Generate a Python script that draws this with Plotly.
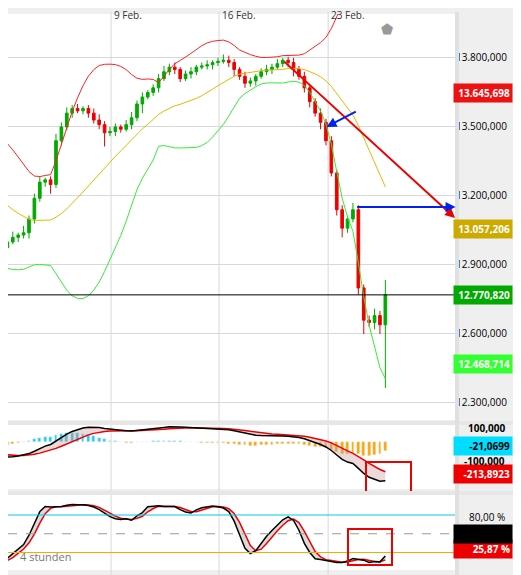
import plotly.graph_objects as go

# ---- data (4-hour bars) ----
pre_closes = [13400, 13380, 13370, 13350, 13330, 13320, 13290, 13270, 13250, 13230,
              13200, 13180, 13150, 13120, 13090, 13060, 13030, 13000, 12980, 12960]
closes = [12975, 13000, 13020, 13030, 13040, 13100, 13190, 13260, 13270, 13250,
          13440, 13500, 13560, 13580, 13570, 13580, 13560, 13530, 13510, 13475,
          13480, 13500, 13490, 13510, 13540, 13600, 13630, 13650, 13670, 13710,
          13740, 13760, 13750, 13710, 13730, 13740, 13760, 13765, 13770, 13780,
          13785, 13790, 13780, 13750, 13720, 13690, 13700, 13720, 13740, 13750,
          13760, 13775, 13790, 13780, 13750, 13720, 13670, 13610, 13560, 13520,
          13440, 13300, 13140, 13060, 13100, 13140, 12800, 12660, 12650, 12680,
          12640, 12770]
wick_up = [20, 15, 25, 10, 30, 15, 20, 25, 10, 15, 30, 20, 25, 15, 20, 10, 15, 20, 25, 15,
           20, 15, 10, 20, 25, 15, 20, 10, 15, 20, 25, 15, 20, 10, 15, 20, 10, 15, 20, 10,
           15, 25, 20, 15, 10, 20, 15, 10, 15, 20, 15, 20, 10, 15, 20, 15, 20, 10, 15, 20,
           15, 20, 15, 20, 15, 30, 20, 15, 20, 30, 20, 65]
wick_dn = [20, 15, 10, 20, 15, 25, 20, 15, 20, 40, 15, 20, 15, 20, 10, 15, 20, 15, 20, 60,
           15, 20, 15, 10, 20, 15, 40, 10, 15, 20, 10, 15, 20, 15, 10, 20, 15, 10, 15, 20,
           15, 10, 20, 30, 15, 20, 15, 20, 10, 15, 20, 10, 15, 20, 30, 15, 20, 25, 15, 30,
           20, 15, 25, 40, 20, 15, 30, 60, 20, 30, 40, 275]
date_ticks = ["9 Feb.", "16 Feb.", "23 Feb."]
date_pos = [20.2, 40.2, 60.4]

opens = [pre_closes[-1]] + closes[:-1]
highs = [max(o, c) + w for o, c, w in zip(opens, closes, wick_up)]
lows = [min(o, c) - w for o, c, w in zip(opens, closes, wick_dn)]
n = len(closes)
xs = list(range(n))

allc = pre_closes + closes
allh = [c + 15 for c in pre_closes] + highs
alll = [c - 15 for c in pre_closes] + lows
P = len(pre_closes)

def sma_std(arr, i, w):
    s = arr[i - w + 1:i + 1]
    m = sum(s) / len(s)
    v = (sum((x - m) ** 2 for x in s) / len(s)) ** 0.5
    return m, v

mid, up, lo = [], [], []
for i in range(P, P + n):
    m, v = sma_std(allc, i, 20)
    mid.append(m); up.append(m + 2 * v); lo.append(m - 2 * v)

def ema(arr, w):
    k = 2 / (w + 1); out = [arr[0]]
    for x in arr[1:]:
        out.append(out[-1] + k * (x - out[-1]))
    return out

macd_all = [a - b for a, b in zip(ema(allc, 12), ema(allc, 26))]
sig_all = ema(macd_all, 9)
macd = macd_all[P:]; sig = sig_all[P:]
hist = [m - s for m, s in zip(macd, sig)]

kraw = []
for i in range(len(allc)):
    hh = max(allh[max(0, i - 13):i + 1]); ll = min(alll[max(0, i - 13):i + 1])
    kraw.append(100 * (allc[i] - ll) / (hh - ll) if hh > ll else 50)
kslow = [sum(kraw[max(0, i - 2):i + 1]) / len(kraw[max(0, i - 2):i + 1]) for i in range(len(kraw))]
dline = [sum(kslow[max(0, i - 2):i + 1]) / len(kslow[max(0, i - 2):i + 1]) for i in range(len(kslow))]
kk = kslow[P:]; dd = dline[P:]

# page has 8px body margin: figure spans ref pixels 8..513 / 8..575
OFF = 8
W, H = 521 - 2 * OFF, 575 - OFF
def fx(px): return (px - OFF) / W
def fy(py): return 1 - (py - OFF) / H
def dom(a, b): return [fy(b), fy(a)]

fig = go.Figure()
fig.add_trace(go.Scatter(x=xs, y=up, mode="lines", line=dict(color="#ff2020", width=1), yaxis="y"))
fig.add_trace(go.Scatter(x=xs, y=mid, mode="lines", line=dict(color="#e6b800", width=1), yaxis="y"))
fig.add_trace(go.Scatter(x=xs, y=lo, mode="lines", line=dict(color="#33ee33", width=1), yaxis="y"))
fig.add_trace(go.Candlestick(x=xs, open=opens, high=highs, low=lows, close=closes,
                             increasing=dict(line=dict(color="#00aa00", width=1), fillcolor="#00aa00"),
                             decreasing=dict(line=dict(color="#ee0000", width=1), fillcolor="#ee0000"),
                             whiskerwidth=0, yaxis="y"))
fig.add_trace(go.Bar(x=xs, y=hist, marker_color=["#22ccee" if h >= 0 else "#ffa500" for h in hist],
                     width=0.5, yaxis="y2"))
fig.add_trace(go.Scatter(x=xs, y=sig, mode="lines", line=dict(color="#ee0000", width=1.5), yaxis="y2"))
fig.add_trace(go.Scatter(x=xs, y=macd, mode="lines", line=dict(color="black", width=1.5),
                         fill="tonexty", fillcolor="rgba(200,150,150,0.35)", yaxis="y2"))
fig.add_trace(go.Scatter(x=xs, y=dd, mode="lines", line=dict(color="#ee0000", width=1.5), yaxis="y3"))
fig.add_trace(go.Scatter(x=xs, y=kk, mode="lines", line=dict(color="black", width=1.5),
                         fill="tonexty", fillcolor="rgba(150,150,150,0.35)", yaxis="y3"))

shapes = []
for p in date_pos:
    shapes.append(dict(type="line", xref="x", yref="paper", x0=p, x1=p, y0=0, y1=fy(12),
                       line=dict(color="#d8d8d8", width=1), layer="below"))
for yv, c, d in [(80, "#00ccee", "solid"), (50, "#999999", "dash"), (20, "#ffa500", "solid")]:
    shapes.append(dict(type="line", xref="paper", yref="y3", x0=0, x1=fx(455), y0=yv, y1=yv,
                       line=dict(color=c, width=1, dash=d)))
shapes.append(dict(type="line", xref="paper", yref="y", x0=0, x1=fx(455), y0=closes[-1], y1=closes[-1],
                   line=dict(color="black", width=1)))
shapes.append(dict(type="rect", xref="paper", yref="paper", x0=fx(366), x1=fx(411), y0=fy(492), y1=fy(462),
                   line=dict(color="#ee0000", width=2)))
shapes.append(dict(type="rect", xref="paper", yref="paper", x0=fx(348), x1=fx(392), y0=fy(565), y1=fy(529),
                   line=dict(color="#ee0000", width=2)))
for yp in [421, 491]:
    shapes.append(dict(type="rect", xref="paper", yref="paper", x0=0, x1=1, y0=fy(yp + 4), y1=fy(yp),
                       fillcolor="#e6e6e6", line=dict(width=0)))
shapes.append(dict(type="rect", xref="paper", yref="paper", x0=fx(455), x1=fx(459), y0=0, y1=fy(12),
                   fillcolor="#e0e0e0", line=dict(width=0)))

ann = []
for p, t in zip(date_pos, date_ticks):
    ann.append(dict(x=p, xref="x", y=1, yref="paper", text=t, showarrow=False, xanchor="left", yanchor="top",
                    xshift=1, yshift=2, font=dict(size=10, color="#333")))
def tag(yv, yref, text, bg, fc="white"):
    ann.append(dict(x=1, xref="paper", y=yv, yref=yref, text="<b>" + text + "</b>", showarrow=False, xanchor="right",
                    bgcolor=bg, font=dict(size=10, color=fc), borderpad=2, width=54, align="right"))
tag(13645.698, "y", "13.645,698", "#ee1111")
tag(13057.206, "y", "13.057,206", "#ccaa00")
tag(closes[-1], "y", "12.770,820", "#00aa00")
tag(12468.714, "y", "12.468,714", "#33ff33")
tag(-21.07, "y2", "-21,0699", "#00ddff", "black")
tag(-213.89, "y2", "-213,8923", "#ee0000")
tag(25.87, "y3", "25,87 %", "#ee0000")
tag(50, "y3", " ", "black")
ann.append(dict(x=1, xref="paper", y=100, yref="y2", text="<b>100,000</b>", showarrow=False, xanchor="right",
                xshift=-6, font=dict(size=10, color="black")))
ann.append(dict(x=1, xref="paper", y=-100, yref="y2", text="<b>-100,000</b>", showarrow=False, xanchor="right",
                xshift=-6, yshift=-4, font=dict(size=10, color="black")))
ann.append(dict(x=1, xref="paper", y=80, yref="y3", text="80,00 %", showarrow=False, xanchor="right",
                xshift=-6, yshift=-2, font=dict(size=10, color="black")))
ann.append(dict(x=fx(18), xref="paper", y=14, yref="y3", text="4 stunden", showarrow=False, xanchor="left",
                font=dict(size=11, color="#777")))
ann.append(dict(x=83.9, y=13104, ax=52, ay=13790, xref="x", yref="y", axref="x", ayref="y", text="",
                showarrow=True, arrowhead=2, arrowsize=1, arrowwidth=2, arrowcolor="#ee0000"))
ann.append(dict(x=60.1, y=13500, ax=65.8, ay=13570, xref="x", yref="y", axref="x", ayref="y", text="",
                showarrow=True, arrowhead=2, arrowsize=1, arrowwidth=2, arrowcolor="#0022ee"))
ann.append(dict(x=84, y=13152, ax=65.5, ay=13152, xref="x", yref="y", axref="x", ayref="y", text="",
                showarrow=True, arrowhead=2, arrowsize=1, arrowwidth=2, arrowcolor="#0022ee"))
ann.append(dict(x=71.3, y=13930, xref="x", yref="y", text="⬟", showarrow=False, font=dict(size=14, color="#999")))

x0 = (OFF - 2) / 5.4
fig.update_layout(
    width=W, height=H, margin=dict(l=0, r=0, t=0, b=0), showlegend=False,
    paper_bgcolor="#efefef", plot_bgcolor="white", separators=",.",
    shapes=shapes, annotations=ann, bargap=0,
    xaxis=dict(domain=[0, fx(455)], range=[x0, 83.9], showticklabels=False, showgrid=False, zeroline=False,
               rangeslider=dict(visible=False), anchor="y3"),
    yaxis=dict(domain=dom(14, 420), range=[12226, 13991], side="right", tickvals=[12300, 12600, 12900, 13200, 13500, 13800],
               tickformat=",.3f", gridcolor="#d8d8d8", zeroline=False, tickfont=dict(size=10, color="black"),
               ticks="", automargin=False),
    yaxis2=dict(domain=dom(425, 489), range=[-320, 120], showticklabels=False, showgrid=False, zeroline=False, anchor="x"),
    yaxis3=dict(domain=dom(495, 570), range=[-8, 112], showticklabels=False, showgrid=False, zeroline=False, anchor="x"),
)
fig.write_html("out.html")
